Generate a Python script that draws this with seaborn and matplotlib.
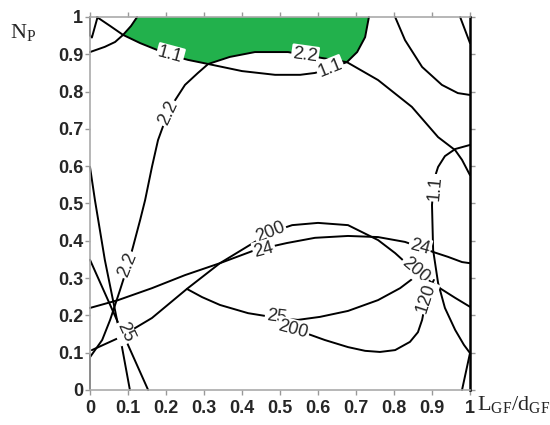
import numpy as np
import pandas as pd
import matplotlib
matplotlib.use("Agg")
import matplotlib.pyplot as plt
import seaborn as sns

# contour lines (x = L_GF/d_GF, y = N_P)
c11_x = [0.018, 0.053, 0.087, 0.132, 0.171, 0.211, 0.258, 0.311, 0.400, 0.487, 0.553, 0.592, 0.632, 0.676, 0.703, 0.724, 0.734]
c11_y = [1.000, 0.976, 0.952, 0.930, 0.914, 0.898, 0.885, 0.874, 0.855, 0.845, 0.845, 0.850, 0.863, 0.879, 0.906, 0.946, 1.000]

arc_x = [0.000, 0.039, 0.066, 0.087, 0.108, 0.124]
arc_y = [0.906, 0.920, 0.933, 0.952, 0.976, 1.000]

c22_x = [0.000, 0.032, 0.053, 0.079, 0.100, 0.113, 0.132, 0.145, 0.163, 0.179, 0.205, 0.224, 0.250, 0.284,
         0.311, 0.368, 0.434, 0.521, 0.566, 0.611, 0.676, 0.758, 0.847, 0.916, 0.961, 0.979, 1.000]
c22_y = [0.088, 0.134, 0.188, 0.268, 0.335, 0.383, 0.456, 0.509, 0.598, 0.670, 0.743, 0.777, 0.818, 0.850,
         0.874, 0.893, 0.906, 0.906, 0.898, 0.890, 0.879, 0.831, 0.759, 0.678, 0.643, 0.617, 0.576]

tr_x = [0.803, 0.829, 0.874, 0.926, 0.968, 1.000]
tr_y = [1.000, 0.938, 0.866, 0.818, 0.796, 0.791]

tr2_x = [0.974, 1.000]
tr2_y = [1.000, 0.930]

r11_x = [1.000, 0.961, 0.934, 0.916, 0.905, 0.900, 0.903, 0.916, 0.934, 0.961, 0.984, 1.000]
r11_y = [0.657, 0.646, 0.627, 0.598, 0.563, 0.496, 0.375, 0.287, 0.220, 0.161, 0.121, 0.099]

rb_x = [1.000, 0.979]
rb_y = [0.099, 0.000]

la_x = [0.000, 0.013, 0.039, 0.071, 0.105]
la_y = [0.598, 0.509, 0.349, 0.188, 0.000]

c25a_x = [0.000, 0.153]
c25a_y = [0.349, 0.000]

c24_x = [0.000, 0.074, 0.163, 0.250, 0.342, 0.434, 0.461, 0.518, 0.592, 0.679, 0.758, 0.829, 0.868, 0.903, 0.942, 0.979, 1.000]
c24_y = [0.220, 0.241, 0.273, 0.308, 0.340, 0.375, 0.381, 0.394, 0.408, 0.413, 0.410, 0.397, 0.383, 0.370, 0.357, 0.343, 0.340]

c200_x = [0.005, 0.074, 0.163, 0.255, 0.342, 0.434, 0.479, 0.532, 0.600, 0.679, 0.758, 0.803, 0.829, 0.861, 0.916, 0.961, 1.000]
c200_y = [0.107, 0.139, 0.193, 0.271, 0.340, 0.397, 0.424, 0.442, 0.448, 0.442, 0.402, 0.367, 0.343, 0.316, 0.276, 0.247, 0.223]

c25_x = [0.255, 0.295, 0.342, 0.416, 0.495, 0.547, 0.605, 0.679, 0.758, 0.816, 0.855]
c25_y = [0.271, 0.249, 0.228, 0.206, 0.193, 0.188, 0.196, 0.212, 0.241, 0.273, 0.303]

c120_x = [0.526, 0.566, 0.618, 0.679, 0.724, 0.763, 0.803, 0.842, 0.863, 0.874, 0.884, 0.895, 0.905]
c120_y = [0.166, 0.153, 0.134, 0.115, 0.105, 0.102, 0.107, 0.129, 0.155, 0.188, 0.241, 0.276, 0.295]

edge_top_x = [0.000, 0.000, 0.005, 0.020]
edge_top_y = [1.000, 0.950, 0.945, 1.000]
edge_bot_x = [0.000, 0.000]
edge_bot_y = [0.000, 0.095]

label_text = ["1.1", "2.2", "2.2", "1.1", "1.1", "2.2", "25", "200", "24", "24", "200", "120", "25", "200"]
label_x = [0.211, 0.205, 0.566, 0.632, 0.908, 0.100, 0.092, 0.474, 0.458, 0.868, 0.858, 0.884, 0.490, 0.535]
label_y = [0.898, 0.743, 0.898, 0.863, 0.542, 0.335, 0.155, 0.424, 0.376, 0.383, 0.322, 0.247, 0.195, 0.163]
label_rot = [-15, 65, -8, 22, 85, 68, -65, 22, 15, -15, -40, 72, -8, -15]

ticks = [0, 0.1, 0.2, 0.3, 0.4, 0.5, 0.6, 0.7, 0.8, 0.9, 1]
tick_labels = ["0", "0.1", "0.2", "0.3", "0.4", "0.5", "0.6", "0.7", "0.8", "0.9", "1"]

curves = {
    "c11": (c11_x, c11_y), "arc": (arc_x, arc_y), "c22": (c22_x, c22_y),
    "tr": (tr_x, tr_y), "tr2": (tr2_x, tr2_y), "r11": (r11_x, r11_y), "rb": (rb_x, rb_y),
    "la": (la_x, la_y), "c25a": (c25a_x, c25a_y), "c24": (c24_x, c24_y),
    "c200": (c200_x, c200_y), "c25": (c25_x, c25_y), "c120": (c120_x, c120_y),
    "edge_top": (edge_top_x, edge_top_y), "edge_bot": (edge_bot_x, edge_bot_y),
}
rows = []
for name, (xs, ys) in curves.items():
    for i, (a, b) in enumerate(zip(xs, ys)):
        rows.append({"curve": name, "order": i, "x": a, "y": b})
df = pd.DataFrame(rows)

sns.set_theme(style="white")
plt.rcParams["font.family"] = ["Liberation Sans", "DejaVu Sans"]
plt.rcParams["mathtext.fontset"] = "custom"
plt.rcParams["mathtext.rm"] = "Liberation Serif"

fig = plt.figure(figsize=(5.5, 4.25), dpi=100)
ax = fig.add_axes([90 / 550, 35 / 425, 380 / 550, 373 / 425])

# feasible region (green): bounded by the 1.1 arcs, the top edge and the 2.2 line
gx = [arc_x[-1]] + c11_x[16:12:-1] + c22_x[19:13:-1] + c11_x[7:1:-1] + arc_x[3:]
gy = [arc_y[-1]] + c11_y[16:12:-1] + c22_y[19:13:-1] + c11_y[7:1:-1] + arc_y[3:]
ax.fill(gx, gy, color="#22b14c", lw=0, zorder=1)

sns.lineplot(data=df, x="x", y="y", units="curve", estimator=None, sort=False,
             color="black", lw=1.4, ax=ax, legend=False, zorder=2)
for ln in ax.lines:
    ln.set_clip_on(False)

for t, x, y, r in zip(label_text, label_x, label_y, label_rot):
    ax.text(x, y, t, rotation=r, ha="center", va="center", fontsize=13, zorder=3,
            rotation_mode="anchor",
            bbox=dict(boxstyle="round,pad=0.08", fc="white", ec="none"))

ax.set_xlim(0, 1)
ax.set_ylim(0, 1)
ax.set_xticks(ticks)
ax.set_xticklabels(tick_labels, fontweight="bold")
ax.set_yticks(ticks)
ax.set_yticklabels(tick_labels, fontweight="bold")
ax.set_xlabel("")
ax.set_ylabel("")
ax.tick_params(direction="out", length=3.5, width=1, color="#999999", labelsize=13,
               top=True, right=True, bottom=True, left=True, pad=1.5)
ax.tick_params(axis="x", pad=3.5)
for s in ["left", "top", "bottom"]:
    ax.spines[s].set_color("#aaaaaa")
    ax.spines[s].set_linewidth(1.2)
ax.spines["right"].set_color("black")
ax.spines["right"].set_linewidth(1.8)

fig.text(10 / 550, 1 - 38 / 425, r"$\mathrm{N}_{\mathrm{P}}$", fontsize=16, va="baseline")
fig.text(477 / 550, 15 / 425, r"$\mathrm{L}_{\mathrm{GF}}/\mathrm{d}_{\mathrm{GF}}$", fontsize=16, va="baseline")

fig.savefig("out.png", dpi=100)
